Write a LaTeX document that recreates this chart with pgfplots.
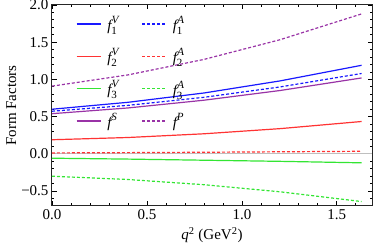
\documentclass[border=0pt]{standalone}
\usepackage{fontspec}
\setmainfont{Liberation Serif}
\usepackage{pgfplots}
\pgfplotsset{compat=1.18}
\definecolor{cblue}{rgb}{0.1,0.1,1}
\definecolor{cred}{rgb}{1,0.2,0.2}
\definecolor{cgreen}{rgb}{0.2,0.9,0.2}
\definecolor{cpurp}{rgb}{0.6,0.2,0.65}
\newcommand\ff[2]{{\itshape f}\raisebox{-4pt}{\fontsize{11}{11}\selectfont #1}\hspace{-5.2pt}\raisebox{7pt}{\fontsize{11}{11}\selectfont\itshape #2}}
\begin{document}
\begin{tikzpicture}
\begin{axis}[
  scale only axis, width=320pt, height=201pt,
  xmin=0, xmax=1.685, ymin=-0.7, ymax=2.0,
  xtick={0,0.5,1,1.5}, xticklabels={0.0,0.5,1.0,1.5},
  ytick={-0.5,0,0.5,1,1.5,2}, yticklabels={−0.5,0.0,0.5,1.0,1.5,2.0},
  minor xtick={0.1,0.2,...,1.65},
  minor ytick={-0.6,-0.5,...,1.95},
  major tick length=4.5pt, minor tick length=2.5pt,
  every tick/.style={black, line width=0.8pt},
  axis line style={line width=1pt, black!85},
  tick label style={font=\fontsize{15}{18}\selectfont},
  label style={font=\fontsize{15}{18}\selectfont},
  xlabel={{\itshape q}\textsuperscript{2} (GeV\textsuperscript{2})},
  ylabel={Form Factors},
  ylabel style={yshift=-2pt},
  xlabel style={yshift=-1pt},
  legend columns=2,
  legend style={draw=none, fill=none, at={(0.065,0.965)}, anchor=north west,
    font=\fontsize{15}{18}\selectfont, row sep=12.5pt,
    /tikz/every odd column/.append style={column sep=4pt},
    /tikz/every even column/.append style={column sep=21pt}},
  legend cell align=left,
  legend image code/.code={\draw[line width=1.3pt, #1] (0pt,0pt) -- (24pt,0pt);},
]
\addplot[gray!50, line width=1pt, forget plot] coordinates {(0,0) (1.685,0)};
\addplot[draw=cblue, solid, line width=1.2pt] coordinates {(0,0.600) (0.4,0.693) (0.8,0.818) (1.2,0.980) (1.63,1.190)};
\addlegendentry{\ff{1}{V}}
\addplot[draw=cblue, dash pattern=on 3pt off 2pt, line width=1.2pt] coordinates {(0,0.573) (0.4,0.652) (0.8,0.760) (1.2,0.899) (1.63,1.080)};
\addlegendentry{\ff{1}{A}}
\addplot[draw=cred, solid, line width=1.2pt] coordinates {(0,0.190) (0.4,0.220) (0.8,0.270) (1.2,0.339) (1.63,0.435)};
\addlegendentry{\ff{2}{V}}
\addplot[draw=cred, dash pattern=on 3pt off 2pt, line width=1.2pt] coordinates {(0,0.013) (0.4,0.017) (0.8,0.022) (1.2,0.028) (1.63,0.035)};
\addlegendentry{\ff{2}{A}}
\addplot[draw=cgreen, solid, line width=1.2pt] coordinates {(0,-0.058) (0.4,-0.070) (0.8,-0.085) (1.2,-0.100) (1.63,-0.120)};
\addlegendentry{\ff{3}{V}}
\addplot[draw=cgreen, dash pattern=on 3pt off 2pt, line width=1.2pt] coordinates {(0,-0.300) (0.4,-0.344) (0.8,-0.414) (1.2,-0.509) (1.63,-0.640)};
\addlegendentry{\ff{3}{A}}
\addplot[draw=cpurp, solid, line width=1.2pt] coordinates {(0,0.540) (0.4,0.617) (0.8,0.721) (1.2,0.851) (1.63,1.020)};
\addlegendentry{{\itshape f}\raisebox{7pt}{\fontsize{11}{11}\selectfont\itshape S}}
\addplot[draw=cpurp, dash pattern=on 3pt off 2pt, line width=1.2pt] coordinates {(0,0.910) (0.4,1.061) (0.8,1.269) (1.2,1.533) (1.63,1.880)};
\addlegendentry{{\itshape f}\raisebox{7pt}{\fontsize{11}{11}\selectfont\itshape P}}
\end{axis}
\pgfresetboundingbox
\useasboundingbox (-52pt,-42pt) rectangle (322pt,206pt);
\end{tikzpicture}
\end{document}
